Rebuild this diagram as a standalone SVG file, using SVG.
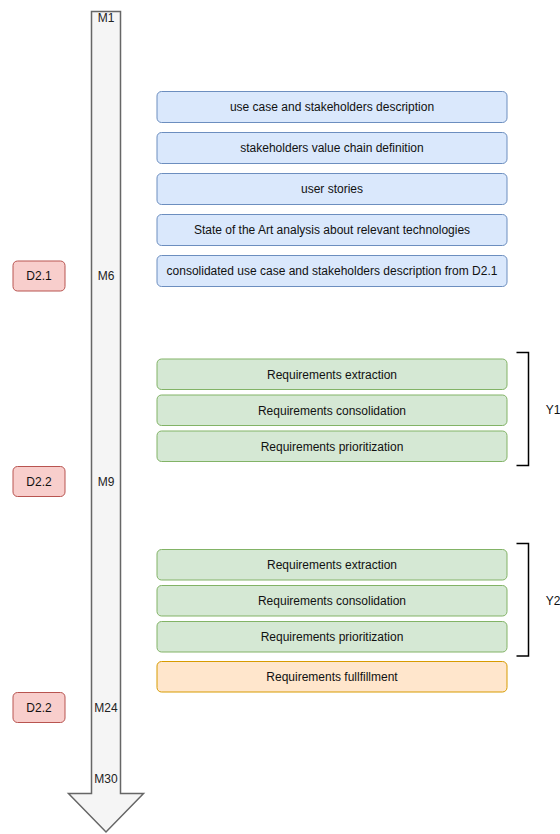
<svg xmlns="http://www.w3.org/2000/svg" width="560" height="834" viewBox="0 0 560 834">
  <style>
    text { font-family: "Liberation Sans", Arial, sans-serif; font-size: 12px; text-anchor: middle; dominant-baseline: central; fill: #111111; }
    .blue { fill: #dae8fc; stroke: #6c8ebf; stroke-width: 1; }
    .green { fill: #d5e8d4; stroke: #82b366; stroke-width: 1; }
    .orange { fill: #ffe6cc; stroke: #d79b00; stroke-width: 1; }
    .red { fill: #f8cecc; stroke: #b85450; stroke-width: 1; }
    .timeline { fill: #f5f5f5; stroke: #666666; stroke-width: 1.5; }
    .bracket { fill: none; stroke: #000; stroke-width: 1.5; }
    .mlabel { fill: #222222; }
  </style>

  <!-- timeline arrow -->
  <g id="timeline">
    <path class="timeline" d="M91.5,11.5 H120.5 V793.5 H143.5 L106,832 L68.5,793.5 H91.5 Z"/>
    <text class="mlabel" x="106" y="18">M1</text>
    <text class="mlabel" x="106" y="276">M6</text>
    <text class="mlabel" x="106" y="482">M9</text>
    <text class="mlabel" x="106" y="708">M24</text>
    <text class="mlabel" x="106" y="779">M30</text>
  </g>

  <!-- deliverables -->
  <g id="d21"><rect class="red" x="13" y="261" width="52" height="30" rx="4.5"/><text x="39" y="276">D2.1</text></g>
  <g id="d22a"><rect class="red" x="13" y="466.5" width="52" height="30" rx="4.5"/><text x="39" y="481.5">D2.2</text></g>
  <g id="d22b"><rect class="red" x="13" y="692.5" width="52" height="30" rx="4.5"/><text x="39" y="707.5">D2.2</text></g>

  <!-- analysis tasks -->
  <g id="uc"><rect class="blue" x="157" y="91.5" width="350" height="31" rx="4.5"/><text x="332" y="107">use case and stakeholders description</text></g>
  <g id="vc"><rect class="blue" x="157" y="132.5" width="350" height="31" rx="4.5"/><text x="332" y="148">stakeholders value chain definition</text></g>
  <g id="us"><rect class="blue" x="157" y="173.5" width="350" height="31" rx="4.5"/><text x="332" y="189">user stories</text></g>
  <g id="soa"><rect class="blue" x="157" y="214.5" width="350" height="31" rx="4.5"/><text x="332" y="230">State of the Art analysis about relevant technologies</text></g>
  <g id="cuc"><rect class="blue" x="157" y="255.5" width="350" height="31" rx="4.5"/><text x="332" y="271">consolidated use case and stakeholders description from D2.1</text></g>

  <!-- year 1 requirements -->
  <g id="y1-ext"><rect class="green" x="157" y="359" width="350" height="30.5" rx="4.5"/><text x="332" y="374.5">Requirements extraction</text></g>
  <g id="y1-con"><rect class="green" x="157" y="395" width="350" height="30.5" rx="4.5"/><text x="332" y="410.5">Requirements consolidation</text></g>
  <g id="y1-pri"><rect class="green" x="157" y="431" width="350" height="30.5" rx="4.5"/><text x="332" y="446.5">Requirements prioritization</text></g>

  <!-- year 2 requirements -->
  <g id="y2-ext"><rect class="green" x="157" y="549.5" width="350" height="30.5" rx="4.5"/><text x="332" y="565">Requirements extraction</text></g>
  <g id="y2-con"><rect class="green" x="157" y="585.5" width="350" height="30.5" rx="4.5"/><text x="332" y="601">Requirements consolidation</text></g>
  <g id="y2-pri"><rect class="green" x="157" y="621.5" width="350" height="30.5" rx="4.5"/><text x="332" y="637">Requirements prioritization</text></g>
  <g id="ful"><rect class="orange" x="157" y="661.5" width="350" height="30.5" rx="4.5"/><text x="332" y="677">Requirements fullfillment</text></g>

  <!-- year brackets -->
  <g id="y1">
    <path class="bracket" d="M516.5,352.5 H528.5 V465.5 H516.5"/>
    <text x="553" y="410">Y1</text>
  </g>
  <g id="y2">
    <path class="bracket" d="M516.5,543.5 H528.5 V656 H516.5"/>
    <text x="553" y="601">Y2</text>
  </g>
</svg>
